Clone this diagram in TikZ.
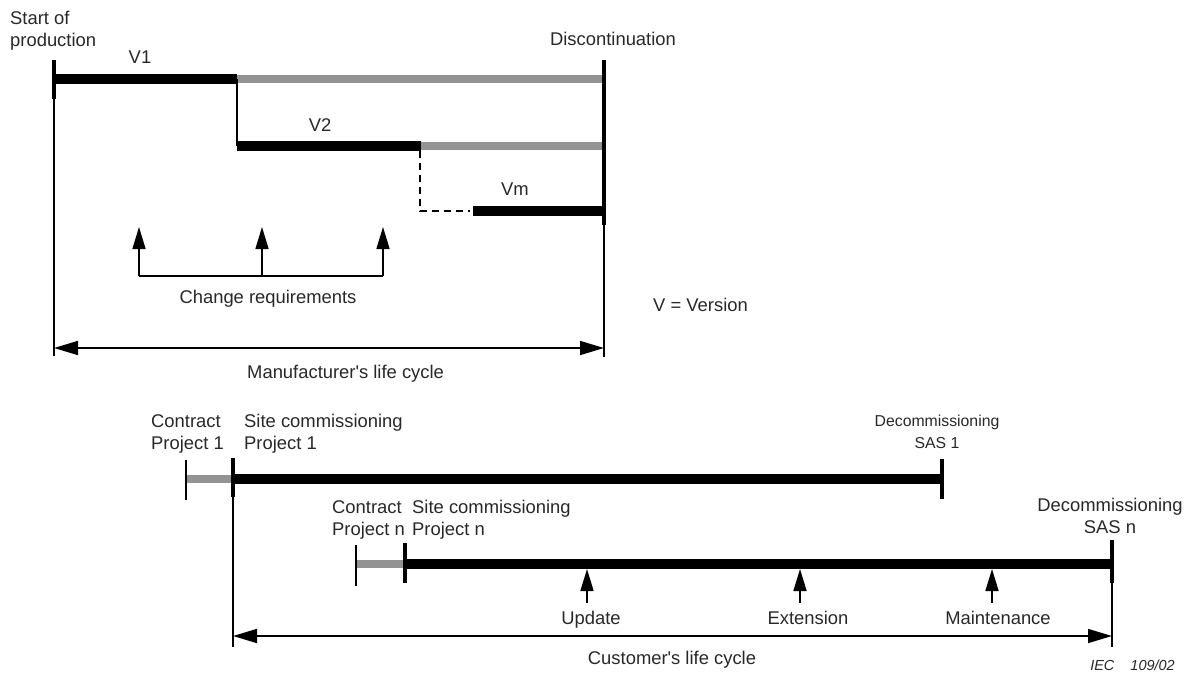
\documentclass[tikz,border=0pt]{standalone}
\usepackage{fontspec}
\setmainfont{Liberation Sans}
\usetikzlibrary{arrows.meta}
\definecolor{plangray}{RGB}{147,147,147}
\definecolor{inkgray}{RGB}{40,40,40}
\tikzset{
  lbl/.style={font=\fontsize{18.4}{21.5}\selectfont, inner sep=0pt, text=inkgray, align=left},
  lblc/.style={lbl, align=center},
  smalllbl/.style={font=\fontsize{15.8}{22}\selectfont, inner sep=0pt, text=inkgray, align=center},
  blackbar/.style={line width=9.5pt, black},
  graybar/.style={line width=8.5pt, plangray},
  mark line/.style={line width=4.5pt, black},
  thinline/.style={line width=1.6pt, black},
  dashline/.style={line width=1.2pt, black, dash pattern=on 7pt off 5pt},
  tip/.style={-{Triangle[length=22pt,width=13pt]}, line width=1.6pt},
  span/.style={{Triangle[length=24pt,width=14pt]}-{Triangle[length=24pt,width=14pt]}, line width=1.6pt},
}
\begin{document}
\begin{tikzpicture}[x=1pt,y=-1pt]
\useasboundingbox (0,0) rectangle (1189,681);

% ---------- manufacturer's versions ----------
\coordinate (sp top) at (54,60);
\coordinate (sp bar) at (54,79);
\coordinate (sp mid) at (54,99);
\coordinate (sp bot) at (54,356);
\coordinate (v1 end) at (237,79);
\coordinate (v2 start) at (237,146);
\coordinate (v2 end) at (421,146);
\coordinate (dc v1) at (604,79);
\coordinate (dc v2) at (604,146);
\coordinate (dc vm) at (604,211);
\coordinate (dc top) at (604,60);
\coordinate (dc mid) at (604,225);
\coordinate (dc bot) at (604,357);
\coordinate (dash a) at (420,151);
\coordinate (dash b) at (420,211);
\coordinate (dash c) at (470,211);
\coordinate (vm start) at (473,211);

\draw[graybar] (v1 end) -- (dc v1);
\draw[blackbar] (sp bar) -- (v1 end);
\draw[thinline] (v1 end) -- (v2 start);
\draw[graybar] (v2 end) -- (dc v2);
\draw[blackbar] (v2 start) -- (v2 end);
\draw[dashline] (dash a) -- (dash b) -- (dash c);
\draw[blackbar] (vm start) -- (dc vm);
\draw[mark line] (sp top) -- (sp mid);
\draw[thinline] (sp mid) -- (sp bot);
\draw[mark line] (dc top) -- (dc mid);
\draw[thinline] (dc mid) -- (dc bot);

% two-line labels are placed by the baseline of their last line
\node[lbl, anchor=base west] (start) at (10,46) {Start of\\production};
\node[lbl, anchor=base] (v1) at (140,63) {V1};
\node[lbl, anchor=base] (v2) at (320,131) {V2};
\node[lbl, anchor=base] (vm) at (515,195) {Vm};
\node[lbl, anchor=base] (disc) at (613,45) {Discontinuation};

% change requirements
\coordinate (cr a) at (139,276);
\coordinate (cr b) at (262,276);
\coordinate (cr c) at (383,276);
\coordinate (cr at) at (139,227);
\coordinate (cr bt) at (262,227);
\coordinate (cr ct) at (383,227);
\draw[thinline] (cr a) -- (cr c);
\draw[tip] (cr a) -- (cr at);
\draw[tip] (cr b) -- (cr bt);
\draw[tip] (cr c) -- (cr ct);
\node[lbl, anchor=base] (cr) at (268,303) {Change requirements};

% manufacturer's life cycle
\coordinate (mlc l) at (54,348);
\coordinate (mlc r) at (604,348);
\draw[span] (mlc l) -- (mlc r);
\node[lbl, anchor=base west] (mlc) at (247,378) {Manufacturer\textquotesingle s life cycle};

\node[lbl, anchor=base west] (legend) at (653,311) {V = Version};

% ---------- customer's projects ----------
\coordinate (c1 top) at (186,460);
\coordinate (c1 bar) at (186,479);
\coordinate (c1 bot) at (186,500);
\coordinate (s1 top) at (233,458);
\coordinate (s1 bar) at (233,479);
\coordinate (s1 mid) at (233,497);
\coordinate (s1 bot) at (233,647);
\coordinate (d1 top) at (942,459);
\coordinate (d1 bar) at (942,479);
\coordinate (d1 bot) at (942,499);

\draw[graybar] (c1 bar) -- (s1 bar);
\draw[blackbar, line width=10.5pt] (s1 bar) -- (d1 bar);
\draw[thinline] (c1 top) -- (c1 bot);
\draw[mark line] (s1 top) -- (s1 mid);
\draw[thinline] (s1 mid) -- (s1 bot);
\draw[mark line] (d1 top) -- (d1 bot);

\node[lbl, anchor=base west] (contract1) at (151,449) {Contract\\Project 1};
\node[lbl, anchor=base west] (site1) at (244,449) {Site commissioning\\Project 1};
\node[smalllbl, anchor=base] (decom1) at (937,448) {Decommissioning\\SAS 1};

\coordinate (cn top) at (356,545);
\coordinate (cn bar) at (356,564);
\coordinate (cn bot) at (356,586);
\coordinate (sn top) at (405,543);
\coordinate (sn bar) at (405,564);
\coordinate (sn bot) at (405,583);
\coordinate (dn top) at (1112,540);
\coordinate (dn bar) at (1112,564);
\coordinate (dn mid) at (1112,583);
\coordinate (dn bot) at (1112,647);

\draw[graybar] (cn bar) -- (sn bar);
\draw[blackbar, line width=10.5pt] (sn bar) -- (dn bar);
\draw[thinline] (cn top) -- (cn bot);
\draw[mark line] (sn top) -- (sn bot);
\draw[mark line] (dn top) -- (dn mid);
\draw[thinline] (dn mid) -- (dn bot);

\node[lbl, anchor=base west] (contractn) at (332,535) {Contract\\Project n};
\node[lbl, anchor=base west] (siten) at (412,535) {Site commissioning\\Project n};
\node[lblc, anchor=base] (decomn) at (1110,533) {Decommissioning\\SAS n};

% interventions during operation
\coordinate (up b) at (587,603);
\coordinate (up t) at (587,569);
\coordinate (ex b) at (800,603);
\coordinate (ex t) at (800,569);
\coordinate (mt b) at (992,603);
\coordinate (mt t) at (992,569);
\draw[tip] (up b) -- (up t);
\draw[tip] (ex b) -- (ex t);
\draw[tip] (mt b) -- (mt t);
\node[lbl, anchor=base] (update) at (591,624) {Update};
\node[lbl, anchor=base] (extension) at (808,624) {Extension};
\node[lbl, anchor=base] (maint) at (998,624) {Maintenance};

% customer's life cycle
\coordinate (clc l) at (233,636);
\coordinate (clc r) at (1112,636);
\draw[span] (clc l) -- (clc r);
\node[lbl, anchor=base] (clc) at (672,664) {Customer\textquotesingle s life cycle};

\node[font=\fontsize{14.5}{17}\selectfont\itshape, inner sep=0pt, text=inkgray, anchor=base east] (iec) at (1175,670) {IEC\hspace{16pt}109/02};
\end{tikzpicture}
\end{document}
